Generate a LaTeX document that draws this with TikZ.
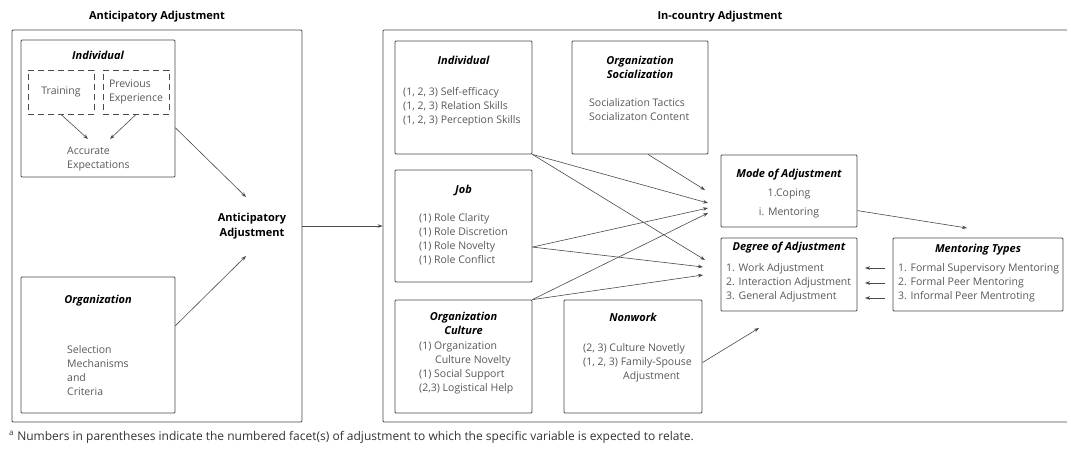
\documentclass[tikz,border=0pt]{standalone}
\usepackage{fontspec}
\setmainfont{Open Sans}
\usetikzlibrary{arrows.meta,positioning}
\definecolor{linegray}{HTML}{4A4A4A}
\definecolor{txtgray}{HTML}{585858}
\tikzset{
    x=1pt, y=-1pt, % one unit is one pixel of the layout, y runs down
    }

\begin{document}
\begin{tikzpicture}[
box/.style 2 args={rectangle, draw=linegray, line width=0.8pt, rounded corners=1pt, minimum width=#1, minimum height=#2},
dbox/.style={rectangle, draw=linegray, dash pattern=on 6pt off 4pt, line width=0.9pt, minimum width=66pt, minimum height=44pt, align=left, text=txtgray, font=\fontsize{10.5}{13.5}\selectfont},
ttl/.style={inner sep=0pt, align=center, font=\fontsize{11}{14}\selectfont\bfseries\itshape},
head/.style={inner sep=0pt, align=center, font=\fontsize{11}{15}\selectfont\bfseries},
txt/.style={inner sep=0pt, align=left, text=txtgray, font=\fontsize{10.5}{14}\selectfont},
arr/.style={draw=linegray, line width=0.6pt, -{Stealth[length=5pt,width=3.6pt]}},
]
\useasboundingbox (0,0) rectangle (1067,453);

% anticipatory adjustment
\node[head] (anthead) at (157,17) {Anticipatory Adjustment};
\node[box={290pt}{392pt}] (antbox) at (157,226) {};

\node[box={154pt}{137pt}] (indl) at (98,108.5) {};
\node[ttl] (indltitle) at (98,55) {Individual};
\node[dbox] (train) at (61,92) {Training};
\node[dbox] (prev) at (136,92) {Previous\\Experience};
\node[txt, anchor=west] (accexp) at (67,159) {Accurate\\Expectations};
\coordinate (acc1) at (88,139);
\coordinate (acc2) at (110,139);
\draw[arr] (train.south) -- (acc1);
\draw[arr] (prev.south) -- (acc2);

\node[box={154pt}{136pt}] (orgl) at (98,345) {};
\node[ttl] (orgltitle) at (98,301) {Organization};
\node[txt, anchor=west] (selmech) at (67,371) {Selection\\Mechanisms\\and\\Criteria};

\node[head] (antadj) at (252,226) {Anticipatory\\Adjustment};
\coordinate (antin) at (246,197);
\coordinate (antout) at (246,256);
\draw[arr] (indl.-14) -- (antin);
\draw[arr] (orgl.14) -- (antout);

% in-country adjustment
\node[head] (inchead) at (720,17) {In-country Adjustment};
\node[box={692pt}{392pt}] (incbox) at (729,226) {};
\draw[arr] (antbox.east) -- (incbox.west);

\node[box={137pt}{113pt}] (indr) at (463.5,97.5) {};
\node[ttl] (indrtitle) at (463.5,60) {Individual};
\node[txt, anchor=west] (indrtext) at (403,107) {(1, 2, 3) Self-efficacy\\(1, 2, 3) Relation Skills\\(1, 2, 3) Perception Skills};

\node[box={136pt}{113pt}] (orgsoc) at (640,97.5) {};
\node[ttl] (orgsoctitle) at (640,67) {Organization\\Socialization};
\node[txt, anchor=west] (orgsoctext) at (589,110) {Socialization Tactics\\Socializaton Content};

\node[box={137pt}{112pt}] (job) at (463.5,226) {};
\node[ttl] (jobtitle) at (463.5,190) {Job};
\node[txt, anchor=west] (jobtext) at (419,239.5) {(1) Role Clarity\\(1) Role Discretion\\(1) Role Novelty\\(1) Role Conflict};

\node[box={137pt}{113pt}] (orgcul) at (463.5,356.5) {};
\node[ttl] (orgcultitle) at (463.5,323) {Organization\\Culture};
\node[txt, anchor=west] (orgcultext) at (419,368) {(1) Organization\\\hspace*{16pt}Culture Novelty\\(1) Social Support\\(2,3) Logistical Help};

\node[box={138pt}{113pt}] (nonwork) at (633,356.5) {};
\node[ttl] (nonworktitle) at (633,317) {Nonwork};
\node[txt, anchor=west] (nonworktext) at (583,363) {(2, 3) Culture Novetly\\(1, 2, 3) Family-Spouse\\\hspace*{40pt}Adjustment};

\node[box={136pt}{72pt}] (mode) at (789,191) {};
\node[ttl] (modetitle) at (789,175) {Mode of Adjustment};
\node[txt, align=center, font=\fontsize{10.5}{19}\selectfont] (modetext) at (789,203.5) {1.Coping\\i. Mentoring};

\node[box={136pt}{73pt}] (degree) at (789,274.5) {};
\node[ttl] (degreetitle) at (789,248) {Degree of Adjustment};
\node[txt, anchor=west] (degreetext) at (726,283) {1. Work Adjustment\\2. Interaction Adjustment\\3. General Adjustment};

\node[box={170pt}{73pt}] (ment) at (978,274.5) {};
\node[ttl] (menttitle) at (978,250) {Mentoring Types};
\node[txt, anchor=west] (menttext) at (898,283) {1. Formal Supervisory Mentoring\\2. Formal Peer Mentoring\\3. Informal Peer Mentroting};

% arrow ends
\coordinate (m1) at (705,190);
\coordinate (m2) at (708,203);
\coordinate (m3) at (708,208);
\coordinate (m4) at (708,213);
\coordinate (d1) at (705,260);
\coordinate (d2) at (703,267);
\coordinate (d3) at (703,275);
\coordinate (d4) at (759,328);
\coordinate (mt) at (967,228);

\draw[arr] (orgsoc.-82) -- (m1);
\draw[arr] (indr.south east) -- (m2);
\draw[arr] (indr.south east) -- (d1);
\draw[arr] (job.-17) -- (m3);
\draw[arr] (job.-17) -- (d2);
\draw[arr] (orgcul.north east) -- (m4);
\draw[arr] (orgcul.north east) -- (d3);
\draw[arr] (nonwork.-5) -- (d4);
\draw[arr] (mode.-16) -- (mt);

\foreach \i/\y in {1/268,2/283,3/298}{
  \coordinate (ms\i) at (885,\y);
  \coordinate (me\i) at (865,\y);
  \draw[arr] (ms\i) -- (me\i);
}

\node[txt, anchor=west, text=black!80, font=\fontsize{12}{14}\selectfont] (note) at (9,437) {\textsuperscript{a} Numbers in parentheses indicate the numbered facet(s) of adjustment to which the specific variable is expected to relate.};
\end{tikzpicture}
\end{document}
